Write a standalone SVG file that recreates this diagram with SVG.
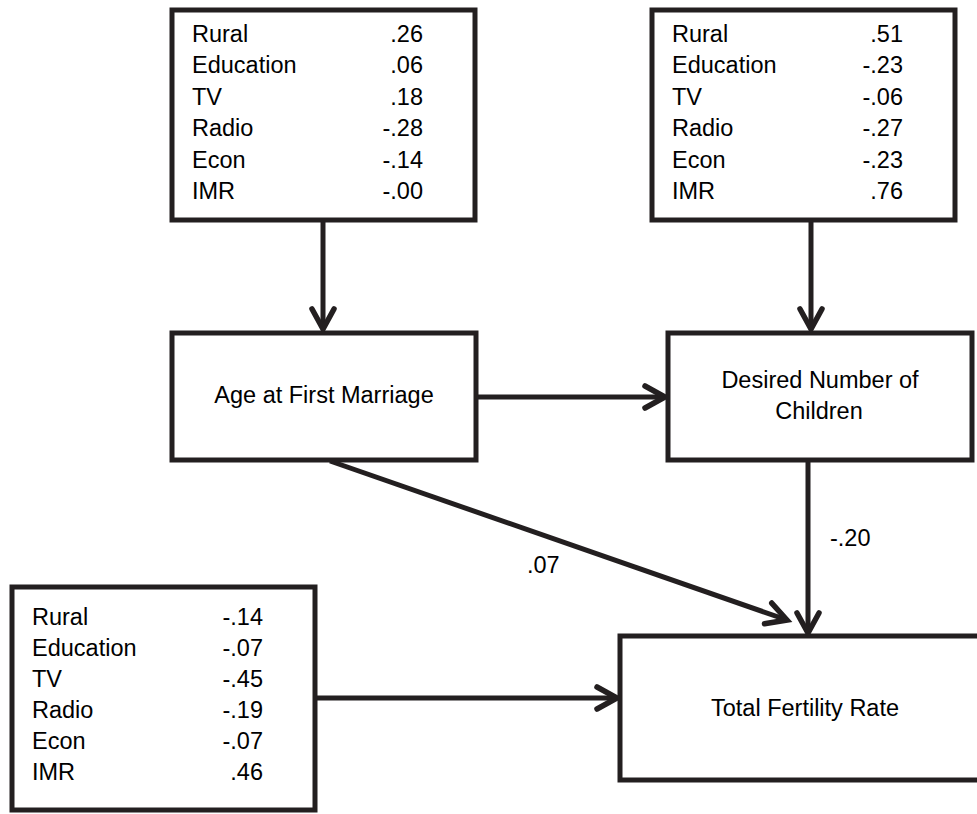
<svg xmlns="http://www.w3.org/2000/svg" width="977" height="814" viewBox="0 0 977 814">
<style>
.box{fill:#fff;stroke:#231f20;stroke-width:5}
.t{font-family:"Liberation Sans",Arial,sans-serif;font-size:23.5px;fill:#000}
.v{text-anchor:end}
.c{text-anchor:middle}
.ln{fill:none;stroke:#231f20;stroke-width:5}
</style>
<defs>
<marker id="ah" markerUnits="userSpaceOnUse" markerWidth="40" markerHeight="40" refX="0" refY="0" viewBox="-30 -20 40 40" orient="auto" overflow="visible">
<path d="M-20,-11 L0,0 L-20,11" fill="none" stroke="#231f20" stroke-width="5.5" stroke-linecap="round" stroke-linejoin="miter"/>
</marker>
</defs>
<rect width="977" height="814" fill="#fff"/>
<g id="connectors">
<line class="ln" x1="323" y1="220" x2="323" y2="329" marker-end="url(#ah)"/>
<line class="ln" x1="811" y1="220" x2="811" y2="329" marker-end="url(#ah)"/>
<line class="ln" x1="476" y1="397" x2="665" y2="397" marker-end="url(#ah)"/>
<line class="ln" x1="808" y1="460" x2="808" y2="633" marker-end="url(#ah)"/>
<line class="ln" x1="330" y1="461" x2="787" y2="620" marker-end="url(#ah)"/>
<line class="ln" x1="315" y1="698" x2="617" y2="698" marker-end="url(#ah)"/>
<text class="t" x="527" y="573">.07</text>
<text class="t" x="830" y="546">-.20</text>
</g>
<g id="box-age-inputs">
<rect class="box" x="172" y="10" width="303" height="210"/>
<text class="t" x="192" y="42">Rural</text><text class="t v" x="423" y="42">.26</text>
<text class="t" x="192" y="73">Education</text><text class="t v" x="423" y="73">.06</text>
<text class="t" x="192" y="104.5">TV</text><text class="t v" x="423" y="104.5">.18</text>
<text class="t" x="192" y="136">Radio</text><text class="t v" x="423" y="136">-.28</text>
<text class="t" x="192" y="167.5">Econ</text><text class="t v" x="423" y="167.5">-.14</text>
<text class="t" x="192" y="199">IMR</text><text class="t v" x="423" y="199">-.00</text>
</g>
<g id="box-desired-inputs">
<rect class="box" x="652" y="10" width="303" height="210"/>
<text class="t" x="672" y="42">Rural</text><text class="t v" x="903" y="42">.51</text>
<text class="t" x="672" y="73">Education</text><text class="t v" x="903" y="73">-.23</text>
<text class="t" x="672" y="104.5">TV</text><text class="t v" x="903" y="104.5">-.06</text>
<text class="t" x="672" y="136">Radio</text><text class="t v" x="903" y="136">-.27</text>
<text class="t" x="672" y="167.5">Econ</text><text class="t v" x="903" y="167.5">-.23</text>
<text class="t" x="672" y="199">IMR</text><text class="t v" x="903" y="199">.76</text>
</g>
<g id="box-tfr-inputs">
<rect class="box" x="12" y="587" width="303" height="223"/>
<text class="t" x="32" y="625">Rural</text><text class="t v" x="263" y="625">-.14</text>
<text class="t" x="32" y="656">Education</text><text class="t v" x="263" y="656">-.07</text>
<text class="t" x="32" y="687">TV</text><text class="t v" x="263" y="687">-.45</text>
<text class="t" x="32" y="718">Radio</text><text class="t v" x="263" y="718">-.19</text>
<text class="t" x="32" y="749">Econ</text><text class="t v" x="263" y="749">-.07</text>
<text class="t" x="32" y="780">IMR</text><text class="t v" x="263" y="780">.46</text>
</g>
<g id="node-age">
<rect class="box" x="172" y="333" width="304" height="127"/>
<text class="t c" x="324" y="403">Age at First Marriage</text>
</g>
<g id="node-desired">
<rect class="box" x="668" y="333" width="304" height="127"/>
<text class="t c" x="820" y="388">Desired Number of</text>
<text class="t c" x="819" y="419">Children</text>
</g>
<g id="node-tfr">
<rect class="box" x="620" y="636" width="370" height="144"/>
<text class="t c" x="805" y="716">Total Fertility Rate</text>
</g>
</svg>
